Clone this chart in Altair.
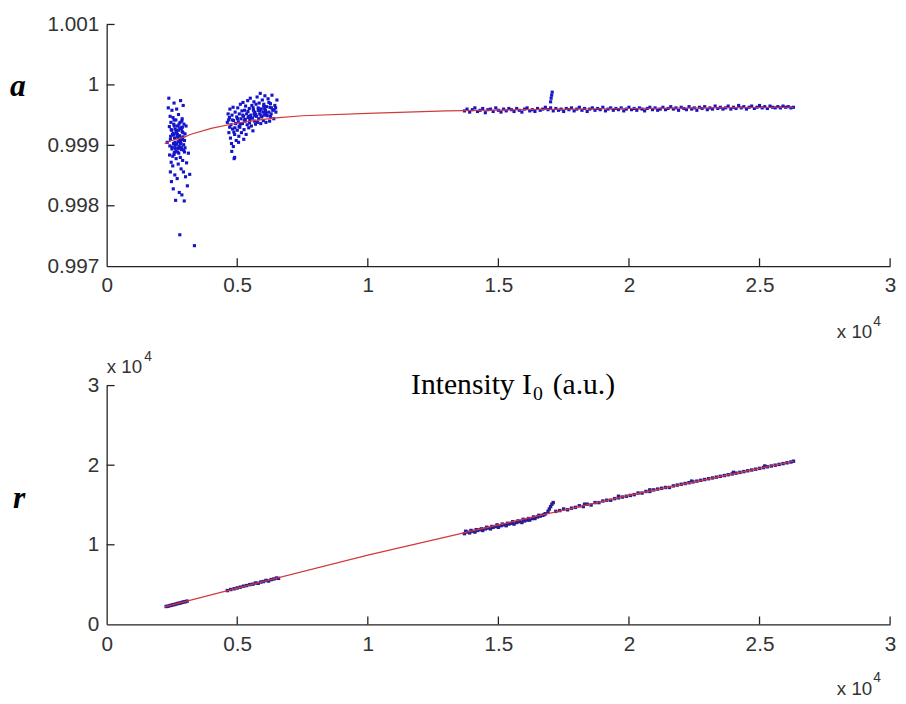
import altair as alt
import pandas as pd

# ---------------- data (x in units of 1e4) ----------------
# top panel: coefficient a vs intensity I0
a1_x = [0.232, 0.236, 0.238, 0.240, 0.241, 0.243, 0.244, 0.245, 0.246, 0.247, 0.248, 0.249, 0.250,
        0.251, 0.252, 0.253, 0.254, 0.255, 0.256, 0.257, 0.258, 0.259, 0.260, 0.261, 0.262, 0.263,
        0.264, 0.265, 0.266, 0.267, 0.268, 0.269, 0.270, 0.271, 0.272, 0.273, 0.274, 0.275, 0.276,
        0.277, 0.278, 0.279, 0.280, 0.281, 0.282, 0.283, 0.284, 0.285, 0.286, 0.287, 0.288, 0.289,
        0.290, 0.291, 0.292, 0.293, 0.294, 0.295, 0.296, 0.297, 0.298, 0.300, 0.302, 0.304, 0.306,
        0.309, 0.313, 0.318, 0.336, 0.270, 0.262, 0.275, 0.285, 0.255, 0.290, 0.258, 0.280, 0.266,
        0.244, 0.250, 0.256, 0.262, 0.268, 0.274, 0.280, 0.286, 0.292, 0.298, 0.247, 0.253, 0.259,
        0.265, 0.271, 0.277, 0.283, 0.289, 0.295, 0.242, 0.258, 0.276, 0.288, 0.300]
a1_y = [0.99905, 0.99962, 0.99978, 0.99931, 0.99884, 0.99948, 0.99856, 0.99915, 0.99938, 0.99872,
        0.99840, 0.99925, 0.99958, 0.99897, 0.99918, 0.99866, 0.99946, 0.99828, 0.99903, 0.99935,
        0.99970, 0.99888, 0.99912, 0.99851, 0.99927, 0.99895, 0.99809, 0.99942, 0.99878, 0.99920,
        0.99960, 0.99902, 0.99845, 0.99932, 0.99889, 0.99913, 0.99869, 0.99951, 0.99925, 0.99898,
        0.99822, 0.99916, 0.99752, 0.99938, 0.99880, 0.99974, 0.99906, 0.99861, 0.99928, 0.99893,
        0.99818, 0.99944, 0.99910, 0.99875, 0.99921, 0.99966, 0.99856, 0.99901, 0.99935, 0.99808,
        0.99889, 0.99919, 0.99848, 0.99932, 0.99871, 0.99833, 0.99887, 0.99852, 0.99734, 0.99915,
        0.99905, 0.99895, 0.99912, 0.99920, 0.99930, 0.99885, 0.99908, 0.99925,
        0.99910, 0.99894, 0.99917, 0.99900, 0.99922, 0.99906, 0.99929, 0.99897, 0.99914, 0.99908,
        0.99926, 0.99882, 0.99932, 0.99890, 0.99918, 0.99935, 0.99903, 0.99923, 0.99892, 0.99899,
        0.99942, 0.99887, 0.99940, 0.99896]

a2_x = [0.462, 0.465, 0.468, 0.470, 0.472, 0.474, 0.476, 0.478, 0.480, 0.482, 0.484, 0.486, 0.488,
        0.490, 0.492, 0.494, 0.496, 0.498, 0.500, 0.502, 0.504, 0.506, 0.508, 0.510, 0.512, 0.514,
        0.516, 0.518, 0.520, 0.522, 0.524, 0.526, 0.528, 0.530, 0.532, 0.534, 0.536, 0.538, 0.540,
        0.542, 0.544, 0.546, 0.548, 0.550, 0.552, 0.554, 0.556, 0.558, 0.560, 0.562, 0.564, 0.566,
        0.568, 0.570, 0.572, 0.574, 0.576, 0.578, 0.580, 0.582, 0.584, 0.586, 0.588, 0.590, 0.592,
        0.594, 0.596, 0.598, 0.600, 0.602, 0.604, 0.606, 0.608, 0.610, 0.612, 0.615, 0.618, 0.621,
        0.624, 0.627, 0.630, 0.633, 0.636, 0.640, 0.644, 0.648, 0.652, 0.485, 0.479, 0.505, 0.525,
        0.490, 0.545, 0.565, 0.585, 0.605, 0.625,
        0.471, 0.481, 0.491, 0.501, 0.511, 0.521, 0.531, 0.541, 0.551, 0.561, 0.571, 0.581, 0.591,
        0.601, 0.611, 0.621, 0.631, 0.641, 0.467, 0.487, 0.507, 0.527, 0.547, 0.567, 0.587, 0.607,
        0.627, 0.647]
a2_y = [0.99938, 0.99952, 0.99921, 0.99946, 0.99960, 0.99912, 0.99934, 0.99903, 0.99950, 0.99927,
        0.99963, 0.99941, 0.99878, 0.99918, 0.99955, 0.99936, 0.99908, 0.99947, 0.99925, 0.99962,
        0.99939, 0.99915, 0.99952, 0.99930, 0.99968, 0.99944, 0.99921, 0.99957, 0.99936, 0.99971,
        0.99948, 0.99926, 0.99958, 0.99940, 0.99965, 0.99918, 0.99952, 0.99934, 0.99974, 0.99946,
        0.99929, 0.99961, 0.99942, 0.99978, 0.99950, 0.99932, 0.99966, 0.99945, 0.99924, 0.99958,
        0.99972, 0.99940, 0.99955, 0.99935, 0.99968, 0.99948, 0.99980, 0.99938, 0.99962, 0.99944,
        0.99970, 0.99952, 0.99986, 0.99936, 0.99960, 0.99947, 0.99975, 0.99955, 0.99941, 0.99968,
        0.99950, 0.99982, 0.99958, 0.99938, 0.99964, 0.99949, 0.99977, 0.99955, 0.99940, 0.99969,
        0.99952, 0.99983, 0.99958, 0.99944, 0.99966, 0.99955, 0.99975, 0.99898, 0.99890, 0.99905,
        0.99910, 0.99880, 0.99948, 0.99953, 0.99957, 0.99961, 0.99963,
        0.99930, 0.99942, 0.99929, 0.99944, 0.99935, 0.99950, 0.99943, 0.99956, 0.99946, 0.99962,
        0.99951, 0.99958, 0.99949, 0.99965, 0.99953, 0.99971, 0.99962, 0.99959, 0.99942, 0.99922,
        0.99931, 0.99942, 0.99937, 0.99949, 0.99960, 0.99955, 0.99948, 0.99962]

a3_x = [1.37, 1.38, 1.39, 1.40, 1.41, 1.42, 1.43, 1.44, 1.45, 1.46,
        1.47, 1.48, 1.49, 1.50, 1.51, 1.52, 1.53, 1.54, 1.55, 1.56,
        1.57, 1.58, 1.59, 1.60, 1.61, 1.62, 1.63, 1.64, 1.65, 1.66,
        1.67, 1.68, 1.69, 1.70, 1.71, 1.72, 1.73, 1.74, 1.75, 1.76,
        1.77, 1.78, 1.79, 1.80, 1.81, 1.82, 1.83, 1.84, 1.85, 1.86,
        1.87, 1.88, 1.89, 1.90, 1.91, 1.92, 1.93, 1.94, 1.95, 1.96,
        1.97, 1.98, 1.99, 2.00, 2.01, 2.02, 2.03, 2.04, 2.05, 2.06,
        2.07, 2.08, 2.09, 2.10, 2.11, 2.12, 2.13, 2.14, 2.15, 2.16,
        2.17, 2.18, 2.19, 2.20, 2.21, 2.22, 2.23, 2.24, 2.25, 2.26,
        2.27, 2.28, 2.29, 2.30, 2.31, 2.32, 2.33, 2.34, 2.35, 2.36,
        2.37, 2.38, 2.39, 2.40, 2.41, 2.42, 2.43, 2.44, 2.45, 2.46,
        2.47, 2.48, 2.49, 2.50, 2.51, 2.52, 2.53, 2.54, 2.55, 2.56,
        2.57, 2.58, 2.59, 2.60, 2.61, 2.62, 2.63,
        1.700, 1.702, 1.704, 1.706]
a3_y = [0.99957, 0.99960, 0.99955, 0.99959, 0.99962, 0.99956, 0.99958, 0.99961, 0.99954, 0.99959,
        0.99960, 0.99956, 0.99962, 0.99958, 0.99955, 0.99960, 0.99957, 0.99961, 0.99959, 0.99956,
        0.99961, 0.99958, 0.99955, 0.99960, 0.99962, 0.99957, 0.99959, 0.99956, 0.99961, 0.99958,
        0.99960, 0.99963, 0.99959, 0.99962, 0.99957, 0.99961, 0.99958, 0.99960, 0.99956, 0.99961,
        0.99959, 0.99962, 0.99957, 0.99960, 0.99963, 0.99958, 0.99961, 0.99956, 0.99960, 0.99962,
        0.99958, 0.99961, 0.99959, 0.99963, 0.99957, 0.99960, 0.99962, 0.99958, 0.99961, 0.99959,
        0.99962, 0.99957, 0.99960, 0.99963, 0.99959, 0.99961, 0.99958, 0.99962, 0.99960, 0.99957,
        0.99961, 0.99963, 0.99959, 0.99962, 0.99958, 0.99960, 0.99963, 0.99959, 0.99961, 0.99964,
        0.99960, 0.99962, 0.99958, 0.99963, 0.99961, 0.99959, 0.99964, 0.99960, 0.99962, 0.99958,
        0.99963, 0.99961, 0.99964, 0.99959, 0.99962, 0.99960, 0.99965, 0.99961, 0.99963, 0.99960,
        0.99962, 0.99965, 0.99960, 0.99963, 0.99961, 0.99966, 0.99962, 0.99964, 0.99960, 0.99963,
        0.99965, 0.99961, 0.99963, 0.99966, 0.99962, 0.99964, 0.99961, 0.99965, 0.99963, 0.99962,
        0.99964, 0.99962, 0.99965, 0.99963, 0.99964, 0.99962, 0.99963,
        0.99972, 0.99978, 0.99983, 0.99988]

fit_a_x = [0.222, 0.25, 0.30, 0.32, 0.40, 0.50, 0.60, 0.66, 0.75, 1.00, 1.30, 1.60, 2.00, 2.30, 2.63]
fit_a_y = [0.99903, 0.99908, 0.99914, 0.99918, 0.99928, 0.99937, 0.99943, 0.99946, 0.99949,
           0.99953, 0.99957, 0.99959, 0.99961, 0.99962, 0.99963]

# bottom panel: r vs intensity I0 (both in units of 1e4)
r_x = [0.228, 0.235, 0.242, 0.248, 0.254, 0.260, 0.266, 0.272, 0.278, 0.284, 0.290, 0.296, 0.302, 0.308,
       0.462, 0.475, 0.488, 0.500, 0.512, 0.524, 0.536, 0.548, 0.560, 0.570, 0.580, 0.590, 0.600,
       0.610, 0.620, 0.630, 0.640, 0.650, 0.658,
       1.370, 1.380, 1.390, 1.400, 1.410, 1.420, 1.430, 1.440, 1.450, 1.460, 1.470, 1.480, 1.490,
       1.500, 1.510, 1.520, 1.530, 1.540, 1.550, 1.560, 1.570, 1.580, 1.590, 1.600, 1.610, 1.620,
       1.630, 1.640, 1.650, 1.660, 1.670, 1.680, 1.690, 1.695, 1.700, 1.705, 1.710,
       1.720, 1.735, 1.750, 1.765, 1.780, 1.795, 1.810, 1.825, 1.840, 1.855, 1.870, 1.885, 1.900,
       1.915, 1.930, 1.945, 1.960, 1.975, 1.990, 2.005, 2.020, 2.035, 2.050, 2.065, 2.080, 2.095,
       2.110, 2.125, 2.140, 2.155, 2.170, 2.185, 2.200, 2.215, 2.230, 2.245, 2.260, 2.275, 2.290,
       2.305, 2.320, 2.335, 2.350, 2.365, 2.380, 2.395, 2.410, 2.425, 2.440, 2.455, 2.470, 2.485,
       2.500, 2.515, 2.530, 2.545, 2.560, 2.575, 2.590, 2.605, 2.620, 2.630,
       1.375, 1.395, 1.415, 1.435, 1.455, 1.475, 1.495, 1.515, 1.535, 1.555, 1.575, 1.595, 1.615,
       1.635, 1.655, 1.675, 1.830, 1.960, 2.080, 2.240, 2.400, 2.520]
r_y = [0.225, 0.228, 0.236, 0.240, 0.247, 0.250, 0.256, 0.262, 0.266, 0.270, 0.278, 0.282, 0.286, 0.292,
       0.425, 0.438, 0.447, 0.458, 0.468, 0.480, 0.488, 0.500, 0.505, 0.520, 0.516, 0.532, 0.538,
       0.552, 0.545, 0.563, 0.570, 0.582, 0.578,
       1.14, 1.16, 1.15, 1.17, 1.16, 1.18, 1.19, 1.18, 1.20, 1.21, 1.20, 1.22, 1.23,
       1.22, 1.24, 1.25, 1.24, 1.26, 1.27, 1.26, 1.28, 1.29, 1.28, 1.30, 1.31, 1.31,
       1.33, 1.33, 1.35, 1.36, 1.37, 1.39, 1.42, 1.45, 1.48, 1.51, 1.53,
       1.42, 1.43, 1.45, 1.44, 1.46, 1.47, 1.49, 1.48, 1.51, 1.50, 1.53, 1.53, 1.55,
       1.56, 1.56, 1.58, 1.59, 1.60, 1.61, 1.62, 1.63, 1.65, 1.65, 1.67, 1.67, 1.69,
       1.70, 1.71, 1.72, 1.72, 1.74, 1.75, 1.76, 1.77, 1.78, 1.79, 1.80, 1.81, 1.82,
       1.83, 1.84, 1.85, 1.86, 1.87, 1.88, 1.89, 1.90, 1.91, 1.92, 1.93, 1.94, 1.95,
       1.96, 1.97, 1.98, 1.99, 2.00, 2.01, 2.02, 2.03, 2.04, 2.05,
       1.17, 1.18, 1.19, 1.20, 1.22, 1.23, 1.25, 1.26, 1.27, 1.29, 1.30, 1.32, 1.33,
       1.35, 1.37, 1.38, 1.51, 1.61, 1.69, 1.80, 1.91, 1.99]

fit_r_x = [0.222, 0.50, 1.00, 1.50, 2.00, 2.50, 2.63]
fit_r_y = [0.22, 0.455, 0.87, 1.25, 1.62, 1.96, 2.05]

x_ticks = [0, 0.5, 1, 1.5, 2, 2.5, 3]
a_ticks = [0.997, 0.998, 0.999, 1, 1.001]
r_ticks = [0, 1, 2, 3]

# ---------------- styling ----------------
W = 794
H1 = 245
H2 = 242
BLUE = "#1414c8"
NAVY = "#2a1c96"
RED = "#d23a3a"
AXC = "#222222"
LBL = "#333333"
FONT = "Liberation Sans"
SERIF = "Liberation Serif"

xscale = alt.Scale(domain=[0, 3], nice=False, zero=False)
ascale = alt.Scale(domain=[0.997, 1.001], nice=False, zero=False)
rscale = alt.Scale(domain=[0, 3], nice=False, zero=False)


def xaxis():
    return alt.Axis(values=x_ticks, format=".1~f", title=None, grid=False, tickSize=0,
                    labelPadding=9, domainColor=AXC, domainWidth=1.3, labelColor=LBL,
                    labelFont=FONT, labelFontSize=21, labelFlush=False, labelOverlap=False)


def yaxis(vals, fmt):
    return alt.Axis(values=vals, format=fmt, title=None, grid=False, tickSize=0,
                    labelPadding=8, domainColor=AXC, domainWidth=1.3, labelColor=LBL,
                    labelFont=FONT, labelFontSize=21, labelOverlap=False)


def txt(s, x, y, size, font=FONT, style="normal", weight="normal", color="#222", align="left"):
    return alt.Chart(pd.DataFrame({"t": [s]})).mark_text(
        font=font, fontSize=size, fontStyle=style, fontWeight=weight, color=color,
        align=align, baseline="alphabetic"
    ).encode(text="t:N", x=alt.value(x), y=alt.value(y))


def panel(xs_list, ys_list, fx, fy, yscale, yticks, fmt, H, color, size):
    pts = pd.concat([pd.DataFrame({"I0": xs, "v": ys}) for xs, ys in zip(xs_list, ys_list)])
    scatter = alt.Chart(pts).mark_square(size=size, color=color, opacity=1).encode(
        x=alt.X("I0:Q", scale=xscale, axis=xaxis()),
        y=alt.Y("v:Q", scale=yscale, axis=yaxis(yticks, fmt)),
    )
    fit = alt.Chart(pd.DataFrame({"I0": fx, "v": fy})).mark_line(color=RED, strokeWidth=1.2).encode(
        x=alt.X("I0:Q", scale=xscale, axis=xaxis()),
        y=alt.Y("v:Q", scale=yscale, axis=yaxis(yticks, fmt)),
    )
    xt = alt.Chart(pd.DataFrame({"I0": x_ticks[1:]})).mark_rule(color=AXC, strokeWidth=1.3).encode(
        x=alt.X("I0:Q", scale=xscale, axis=xaxis()),
        y=alt.value(H), y2=alt.value(H - 8),
    )
    yt = alt.Chart(pd.DataFrame({"v": yticks[1:]})).mark_rule(color=AXC, strokeWidth=1.3).encode(
        y=alt.Y("v:Q", scale=yscale, axis=yaxis(yticks, fmt)),
        x=alt.value(0), x2=alt.value(8),
    )
    return [scatter, fit, xt, yt]


top_layers = panel([a1_x, a2_x, a3_x], [a1_y, a2_y, a3_y], fit_a_x, fit_a_y,
                   ascale, a_ticks, ".4~f", H1, BLUE, 10)
top = alt.layer(
    *top_layers,
    txt("a", -98, 72, 32, font=SERIF, style="italic", weight="bold", color="#000"),
    txt("x 10", 740, 318, 19, color=LBL),
    txt("4", 777, 306, 14, color=LBL),
).properties(width=W, height=H1)

bot_layers = panel([r_x], [r_y], fit_r_x, fit_r_y, rscale, r_ticks, "d", H2, NAVY, 12)
bot = alt.layer(
    *bot_layers,
    txt("r", -95, 124, 32, font=SERIF, style="italic", weight="bold", color="#000"),
    txt("x 10", 0, -13, 19, color=LBL),
    txt("4", 38, -25, 14, color=LBL),
    txt("Intensity I", 431, 9, 30, font=SERIF, color="#000", align="right"),
    txt("0", 432, 15, 20, font=SERIF, color="#000"),
    txt("(a.u.)", 452, 9, 30, font=SERIF, color="#000"),
    txt("x 10", 740, 314, 19, color=LBL),
    txt("4", 777, 300, 14, color=LBL),
).properties(width=W, height=H2)

chart = alt.vconcat(top, bot, spacing=121, bounds="flush").properties(
    padding={"left": 2, "top": 1, "right": 2, "bottom": 0}
).configure_view(stroke=None)

chart.save("out.html", embed_options={"renderer": "svg", "actions": False})
